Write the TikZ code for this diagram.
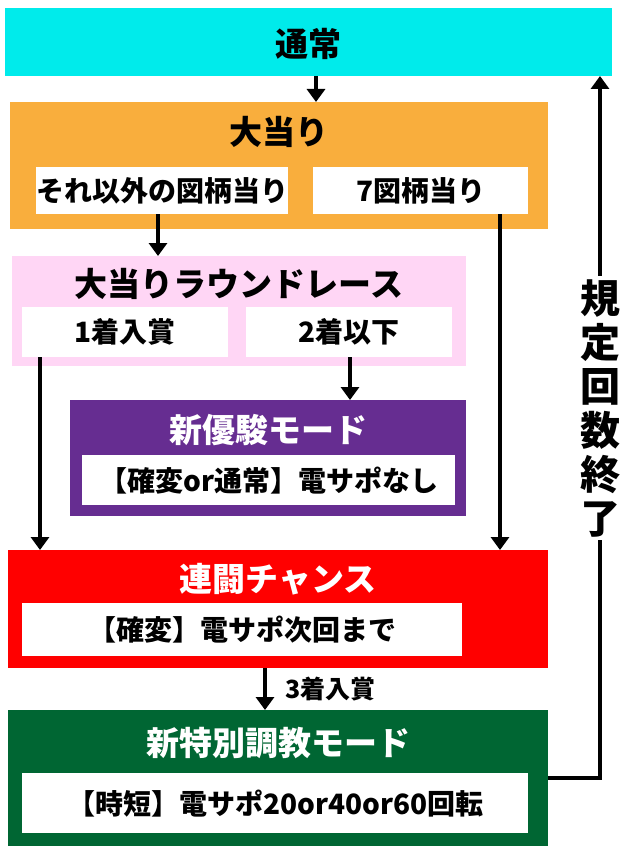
\documentclass[tikz,border=0pt]{standalone}
\usepackage{fontspec}
\setmainfont{Noto Sans CJK JP}[BoldFont={Noto Sans CJK JP Black}]
\usetikzlibrary{arrows.meta}
\definecolor{cy}{RGB}{0,235,235}
\definecolor{org}{RGB}{249,174,61}
\definecolor{pk}{RGB}{255,214,245}
\definecolor{pu}{RGB}{102,45,145}
\definecolor{rd}{RGB}{255,0,0}
\definecolor{gr}{RGB}{0,102,51}
\tikzset{
 x=1pt,y=-1pt,
 wbox/.style={fill=white,draw=none,anchor=north west,inner sep=0pt,font=\bfseries\fontsize{28}{28}\selectfont},
 ttl/.style={font=\bfseries\fontsize{33}{33}\selectfont},
 arr/.style={line width=4.5pt,-{Triangle[length=13pt,width=18pt]}}
}
\begin{document}
\begin{tikzpicture}
\useasboundingbox (0,0) rectangle (626,853);
\fill[white] (0,0) rectangle (626,853);
\fill[cy] (5,8) rectangle (612,76); \node[ttl] (n0) at (308,44) {通常};
\fill[org] (10,102) rectangle (548,229); \node[ttl] (n1) at (279,132) {大当り};
\node[wbox,minimum width=250pt,minimum height=47pt] (a1) at (36,167) {それ以外の図柄当り};
\node[wbox,minimum width=215pt,minimum height=47pt] (a2) at (313,167) {7図柄当り};
\fill[pk] (12,256) rectangle (466,366); \node[ttl] (n2) at (239,284) {大当りラウンドレース};
\node[wbox,minimum width=206pt,minimum height=50pt] (b1) at (22,307) {1着入賞};
\node[wbox,minimum width=206pt,minimum height=50pt] (b2) at (246,307) {2着以下};
\fill[pu] (70,400) rectangle (466,516); \node[ttl,white] (n3) at (268,430) {新優駿モード};
\node[wbox,minimum width=373pt,minimum height=50pt] (c1) at (82,455) {【確変or通常】電サポなし};
\fill[rd] (8,550) rectangle (548,668); \node[ttl,white] (n4) at (278,579) {連闘チャンス};
\node[wbox,minimum width=440pt,minimum height=53pt] (d1) at (22,603) {【確変】電サポ次回まで};
\fill[gr] (8,710) rectangle (548,846); \node[ttl,white] (n5) at (278,743) {新特別調教モード};
\node[wbox,minimum width=506pt,minimum height=60pt] (e1) at (22,773) {【時短】電サポ20or40or60回転};
\coordinate (top0) at (316,76); \coordinate (top1) at (316,102);
\coordinate (p1) at (158,214); \coordinate (p2) at (158,256);
\coordinate (q1) at (350,357); \coordinate (q2) at (350,400);
\coordinate (r1) at (40,357); \coordinate (r2) at (40,550);
\coordinate (s1) at (500,214); \coordinate (s2) at (500,550);
\coordinate (t1) at (265,668); \coordinate (t2) at (265,710);
\coordinate (u1) at (548,778); \coordinate (u2) at (600,778); \coordinate (u3) at (600,76);
\draw[arr] (top0) -- (top1);
\draw[arr] (p1) -- (p2);
\draw[arr] (q1) -- (q2);
\draw[arr] (r1) -- (r2);
\draw[arr] (s1) -- (s2);
\draw[arr] (t1) -- (t2);
\node[font=\bfseries\fontsize{25}{25}\selectfont,anchor=west] (lb) at (282,689) {3着入賞};
\draw[arr] (u1) -- (u2) -- (u3);
\node[fill=white,inner sep=3pt,align=center,font=\bfseries\fontsize{40}{44}\selectfont] (lv) at (600,408) {規\\定\\回\\数\\終\\了};
\end{tikzpicture}
\end{document}
